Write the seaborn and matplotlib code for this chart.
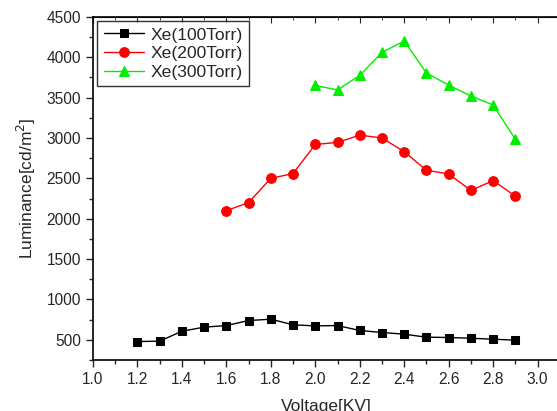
import numpy as np
import pandas as pd
import matplotlib
matplotlib.use("Agg")
import matplotlib.pyplot as plt
import seaborn as sns
from matplotlib.ticker import MultipleLocator

x100 = [1.2, 1.3, 1.4, 1.5, 1.6, 1.7, 1.8, 1.9, 2.0, 2.1, 2.2, 2.3, 2.4, 2.5, 2.6, 2.7, 2.8, 2.9]
y100 = [479, 484, 607, 657, 677, 739, 756, 686, 673, 677, 616, 591, 570, 533, 529, 520, 508, 496]
x200 = [1.6, 1.7, 1.8, 1.9, 2.0, 2.1, 2.2, 2.3, 2.4, 2.5, 2.6, 2.7, 2.8, 2.9]
y200 = [2100, 2200, 2500, 2560, 2920, 2945, 3035, 3000, 2830, 2600, 2555, 2350, 2472, 2280]
x300 = [2.0, 2.1, 2.2, 2.3, 2.4, 2.5, 2.6, 2.7, 2.8, 2.9]
y300 = [3650, 3595, 3775, 4060, 4200, 3805, 3655, 3520, 3408, 2985]
labels = ["Xe(100Torr)", "Xe(200Torr)", "Xe(300Torr)"]
colors = ["#000000", "#ff0000", "#00ee00"]
markers = ["s", "o", "^"]
msizes = [5.5, 7, 7.5]

sns.set_style("ticks")
plt.rcParams['font.family'] = ['Liberation Sans', 'DejaVu Sans']

fig = plt.figure(figsize=(5.57, 4.11), dpi=100)
ax = fig.add_axes([0.167, 0.124, 0.838, 0.835])

for xs, ys, lab, c, m, ms in zip([x100, x200, x300], [y100, y200, y300], labels, colors, markers, msizes):
    df = pd.DataFrame({"Voltage": xs, "Luminance": ys})
    sns.lineplot(data=df, x="Voltage", y="Luminance", ax=ax, color=c, marker=m,
                 markersize=ms, markeredgecolor=c, linewidth=1.0, label=lab)

ax.set_xlim(1.0, 3.1)
ax.set_ylim(250, 4500)
ax.xaxis.set_minor_locator(MultipleLocator(0.1))
ax.yaxis.set_minor_locator(MultipleLocator(250))
ax.set_xticks(np.arange(1.0, 3.01, 0.2))
ax.set_xticklabels([f"{v:.1f}" for v in np.arange(1.0, 3.01, 0.2)])
ax.set_yticks(np.arange(500, 4501, 500))
ax.tick_params(axis='both', which='major', length=5, width=1, labelsize=11.2, direction='out')
ax.tick_params(axis='both', which='minor', length=3, width=1, direction='out')
for s in ax.spines.values():
    s.set_linewidth(1.2)
    s.set_color('black')

sec = ax.secondary_xaxis('top')
sec.xaxis.set_major_locator(MultipleLocator(0.2))
sec.xaxis.set_minor_locator(MultipleLocator(0.1))
sec.tick_params(axis='x', which='major', direction='in', length=4, labeltop=False)
sec.tick_params(axis='x', which='minor', direction='in', length=2.5)

ax.set_xlabel("Voltage[KV]", fontsize=12.5, labelpad=9)
ax.set_ylabel("Luminance[cd/m$^2$]", fontsize=12.5, labelpad=6)

leg = ax.legend(loc='upper left', fontsize=12.6, frameon=True, fancybox=False,
                edgecolor='black', handlelength=2.3, borderpad=0.35,
                labelspacing=0.2, handletextpad=0.4, borderaxespad=0.25)
leg.get_frame().set_linewidth(1.0)

fig.savefig("out.png", dpi=100)
